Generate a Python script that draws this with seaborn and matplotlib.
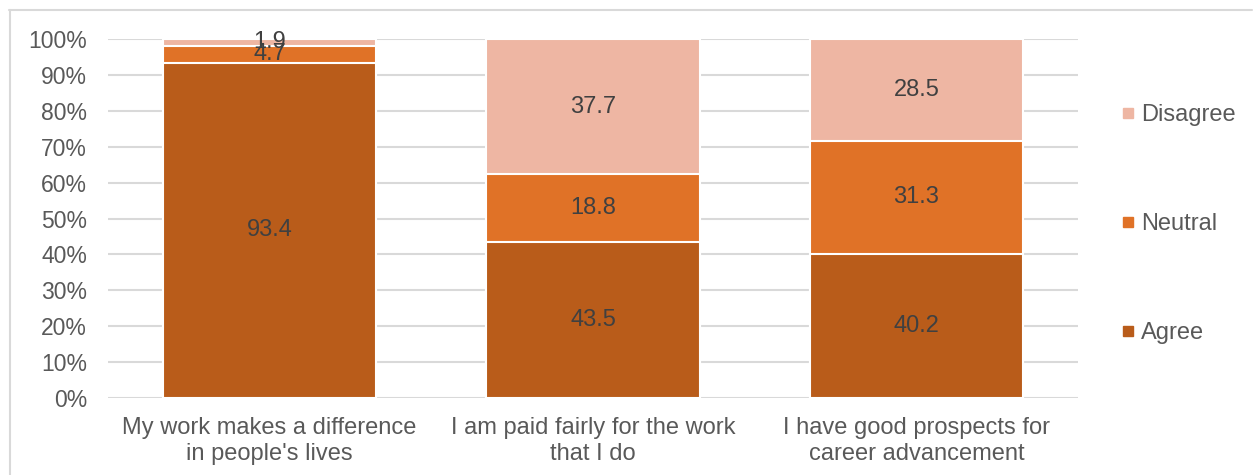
import matplotlib
matplotlib.use("Agg")
import matplotlib.pyplot as plt
from matplotlib.lines import Line2D
import seaborn as sns
import pandas as pd
import numpy as np

categories = [
    "My work makes a difference\nin people's lives",
    "I am paid fairly for the work\nthat I do",
    "I have good prospects for\ncareer advancement",
]
series_names = ["Agree", "Neutral", "Disagree"]
agree = [93.4, 43.5, 40.2]
neutral = [4.7, 18.8, 31.3]
disagree = [1.9, 37.7, 28.5]
ytick_values = [0, 10, 20, 30, 40, 50, 60, 70, 80, 90, 100]
ytick_labels = [f"{v}%" for v in ytick_values]

colors = {"Agree": "#B95C1A", "Neutral": "#E07227", "Disagree": "#EEB6A3"}

sns.set_theme(style="white")
plt.rcParams["font.family"] = ["Liberation Sans", "DejaVu Sans"]

df = pd.DataFrame({"category": categories, "Agree": agree,
                   "Neutral": neutral, "Disagree": disagree})
df["cum_agree"] = df["Agree"]
df["cum_neutral"] = df["Agree"] + df["Neutral"]
df["cum_disagree"] = df["cum_neutral"] + df["Disagree"]

fig = plt.figure(figsize=(12.53, 4.75), dpi=100)
W, H = 1253, 475
ax = fig.add_axes([108 / W, (H - 398) / H, (1078 - 108) / W, (398 - 39) / H])

# stacked bars: draw cumulative totals from the top segment down
for name, col in [("Disagree", "cum_disagree"), ("Neutral", "cum_neutral"),
                  ("Agree", "cum_agree")]:
    sns.barplot(data=df, x="category", y=col, color=colors[name],
                width=0.66, edgecolor="white", linewidth=1.5,
                saturation=1, ax=ax, zorder=3)

# segment value labels
bottoms = np.zeros(len(categories))
for vals in [agree, neutral, disagree]:
    for i, v in enumerate(vals):
        ax.text(i, bottoms[i] + v / 2, f"{v}", ha="center", va="center",
                fontsize=17, color="#404040", zorder=5)
    bottoms += np.array(vals)

ax.set_ylim(0, 100)
ax.set_xlim(-0.5, 2.5)
ax.set_yticks(ytick_values)
ax.set_yticklabels(ytick_labels)
ax.yaxis.grid(True, color="#D9D9D9", linewidth=1.5, zorder=0)
ax.set_axisbelow(True)
for s in ax.spines.values():
    s.set_visible(False)
ax.tick_params(axis="both", length=0, labelcolor="#595959")
ax.tick_params(axis="y", pad=15, labelsize=16.5)
ax.tick_params(axis="x", pad=14, labelsize=17)
for t in ax.get_xticklabels():
    t.set_linespacing(1.2)
ax.set_xlabel("")
ax.set_ylabel("")

# legend on the right, Disagree on top
handles = [Line2D([0], [0], marker="s", linestyle="none", markersize=7,
                  markerfacecolor=colors[n], markeredgecolor=colors[n])
           for n in ["Disagree", "Neutral", "Agree"]]
leg = fig.legend(handles, ["Disagree", "Neutral", "Agree"],
                 loc="upper left", bbox_to_anchor=(1101 / W, (H - 83) / H),
                 frameon=False, fontsize=17, labelspacing=3.68,
                 handlelength=0.5, handletextpad=0.3, labelcolor="#595959")

# chart frame
fig.add_artist(Line2D([9 / W, 1252 / W], [(H - 9.5) / H, (H - 9.5) / H],
                      transform=fig.transFigure, color="#D9D9D9", linewidth=1.5))
fig.add_artist(Line2D([9.5 / W, 9.5 / W], [(H - 9.5) / H, 0],
                      transform=fig.transFigure, color="#D9D9D9", linewidth=1.5))

fig.savefig("out.png", dpi=100)
